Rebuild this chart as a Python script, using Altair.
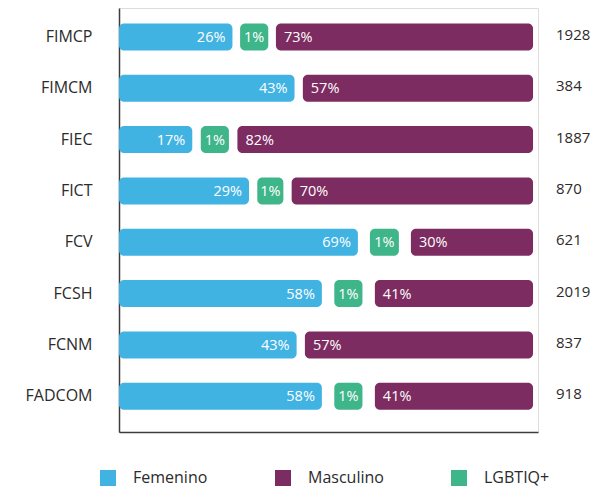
import altair as alt
import pandas as pd

# ---- data ----
facultades = ["FIMCP", "FIMCM", "FIEC", "FICT", "FCV", "FCSH", "FCNM", "FADCOM"]
fem_pct = [26, 43, 17, 29, 69, 58, 43, 58]
lgbt_pct = [1, 0, 1, 1, 1, 1, 0, 1]
masc_pct = [73, 57, 82, 70, 30, 41, 57, 41]
totales = [1928, 384, 1887, 870, 621, 2019, 837, 918]

# drawn segment lengths, as % of the bar track (as they appear in the picture)
fem_len = [27.4, 42.4, 17.7, 31.4, 57.7, 49.0, 42.9, 49.0]
masc_len = [62.1, 55.6, 71.4, 58.3, 29.5, 38.2, 55.1, 38.2]
lgbt_len = [6.8, 0, 6.8, 6.3, 7.0, 6.8, 0, 6.8]

series = ["Femenino", "Masculino", "LGBTIQ+"]
colores = ["#41B3E3", "#7D2C61", "#3FB58A"]

rows = []
for i, f in enumerate(facultades):
    fe = fem_len[i]
    ms = 100 - masc_len[i]
    rows.append(dict(fac=f, serie="Femenino", x0=0, x1=fe, pct=fem_pct[i]))
    if lgbt_pct[i] > 0:
        c = (fe + ms) / 2
        rows.append(dict(fac=f, serie="LGBTIQ+", x0=c - lgbt_len[i] / 2,
                         x1=c + lgbt_len[i] / 2, pct=lgbt_pct[i]))
    rows.append(dict(fac=f, serie="Masculino", x0=ms, x1=100, pct=masc_pct[i]))
df = pd.DataFrame(rows)
df["label"] = df["pct"].astype(str) + "%"
df["xm"] = (df["x0"] + df["x1"]) / 2

df_tot = pd.DataFrame({"fac": facultades, "total": totales})

FONT = "Open Sans"
TXT = "#2b2b2b"

xscale = alt.Scale(domain=[0, 101.2], nice=False, zero=False)
yscale = alt.Scale(type="band", paddingInner=0, paddingOuter=0.13, align=0.245)

x_axis = alt.Axis(title=None, labels=False, ticks=False, grid=False,
                  domain=True, domainColor="#3d3d3d", domainWidth=1.5)
y_axis = alt.Axis(title=None, ticks=False, grid=False, domain=True,
                  domainColor="#3d3d3d", domainWidth=1.5,
                  labelFont=FONT, labelFontSize=16, labelColor=TXT,
                  labelPadding=27)

Y = alt.Y("fac:N", sort=facultades, scale=yscale, axis=y_axis)

base = alt.Chart(df)

bars = base.mark_bar(cornerRadius=5, size=27).encode(
    x=alt.X("x0:Q", scale=xscale, axis=x_axis),
    x2="x1:Q",
    y=Y,
    color=alt.Color(
        "serie:N",
        scale=alt.Scale(domain=series, range=colores),
        legend=alt.Legend(
            title=None, orient="none", direction="horizontal",
            legendX=-19, legendY=462, padding=0,
            symbolType="square", symbolSize=256, symbolStrokeWidth=0,
            labelFont=FONT, labelFontSize=16, labelColor=TXT,
            labelOffset=17, columnPadding=67,
        ),
    ),
)

txt_kw = dict(color="white", font=FONT, fontSize=14.5, baseline="middle", dy=1)

fem_text = base.transform_filter(alt.datum.serie == "Femenino").mark_text(
    align="right", dx=-7, **txt_kw
).encode(x="x1:Q", y=Y, text="label:N")

lg_text = base.transform_filter(alt.datum.serie == "LGBTIQ+").mark_text(
    align="center", **txt_kw
).encode(x="xm:Q", y=Y, text="label:N")

m_text = base.transform_filter(alt.datum.serie == "Masculino").mark_text(
    align="left", dx=8, **txt_kw
).encode(x="x0:Q", y=Y, text="label:N")

totals = alt.Chart(df_tot).mark_text(
    align="left", dx=23, dy=-2, baseline="middle",
    font=FONT, fontSize=15, color=TXT
).encode(x=alt.datum(100), y=Y, text="total:Q")

chart = alt.layer(bars, fem_text, lg_text, m_text, totals).properties(
    width=419, height=424,
    autosize=alt.AutoSizeParams(type="none"),
    padding={"left": 111, "top": 0, "right": 64, "bottom": 57},
).configure_view(stroke=None).configure(background="white")

chart.save("out.html", embed_options={"renderer": "svg", "actions": False})
